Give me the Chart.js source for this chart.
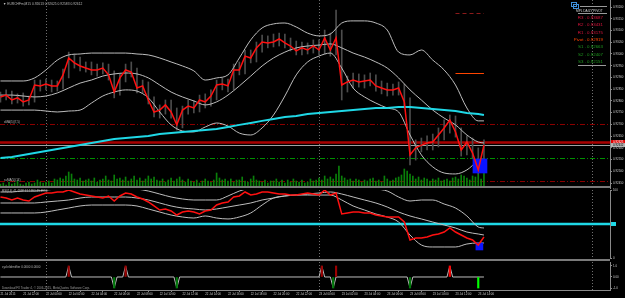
<!DOCTYPE html>
<html>
<head>
<meta charset="utf-8">
<title>EURCHFm,M15</title>
<script src="https://cdn.jsdelivr.net/npm/chart.js@4.4.1/dist/chart.umd.min.js"></script>
<style>
  html, body { margin: 0; padding: 0; background: #000; }
  #terminal { position: relative; width: 625px; height: 298px; overflow: hidden; background: #000; font-family: "Liberation Sans", Arial, sans-serif; }
  #terminal canvas { position: absolute; left: 0; }
  .lbl { position: absolute; white-space: nowrap; color: #b8b8b8; font-size: 3px; line-height: 4px; }
  .pv { position: absolute; right: 22px; white-space: nowrap; font-size: 4.4px; line-height: 5px; text-align: right; }
  .rule { position: absolute; height: 0; border-top: 1px solid #9a9a9a; }
  .icon { position: absolute; width: 4px; height: 3px; border: 1px solid #3f8fd8; }
</style>
</head>
<body>
<div id="terminal">
  <canvas id="priceChart" width="625" height="190" style="top:0"></canvas>
  <canvas id="oscChart" width="625" height="76" style="top:186px"></canvas>
  <canvas id="cycleChart" width="625" height="37" style="top:261px"></canvas>

  <div class="lbl" style="left:3px;top:2px;font-size:3.3px">&#9660; EURCHFm,M15 0.92613 0.92625 0.92583 0.92612</div>
  <div class="lbl" style="left:4px;top:120px">xMA(5)(7,5)</div>
  <div class="lbl" style="left:4px;top:178px">ssMA(5)(14)</div>
  <div class="lbl" style="left:2px;top:188.5px">RSI(14) 41.4998 41.1990 45.4990</div>
  <div class="lbl" style="left:2px;top:264.5px">cycleIdentifier 0.0000 0.0000</div>
  <div class="lbl" style="left:2px;top:285.5px;color:#9a9a9a">Download FX Trader 4, &copy; 2006-2015, MetaQuotes Software Corp.</div>

  <div class="icon" style="left:571px;top:2px"></div>
  <div class="icon" style="left:573px;top:4px"></div>
  <div class="rule" style="left:580px;top:6px;width:27px"></div>
  <div class="lbl" style="left:576px;top:8.5px;font-size:3.2px;color:#d8d8d8">MPL DAILY PIVOT</div>
  <div class="rule" style="left:578px;top:13px;width:29px"></div>
  <div id="pivotRows"></div>
  <div class="rule" style="left:578px;top:65px;width:28px"></div>
</div>

<script>
// time axis (hours after 21 Jul 20:00, M15 bars)
const xMin = -0.04;
const xMax = 53.58;
const dayHours = [4, 28, 52];
const labelHours = [0, 2, 4, 6, 8, 10, 12, 14, 16, 18, 20, 22, 24, 26, 28, 30, 32, 34, 36, 38, 40, 42];
const timeLabels = ['21 Jul 2015', '21 Jul 22:00', '22 Jul 00:00', '22 Jul 02:00', '22 Jul 04:00', '22 Jul 06:00',
  '22 Jul 08:00', '22 Jul 10:00', '22 Jul 12:00', '22 Jul 14:00', '22 Jul 16:00', '22 Jul 18:00', '22 Jul 20:00',
  '22 Jul 22:00', '23 Jul 00:00', '23 Jul 02:00', '23 Jul 04:00', '23 Jul 06:00', '23 Jul 08:00', '23 Jul 10:00',
  '23 Jul 12:00', '23 Jul 14:00'];

// close / high / low every 30 min
const close = [
  0.92817, 0.92825, 0.92804, 0.92813, 0.92796, 0.92804,
  0.92868, 0.92864, 0.92872, 0.92864, 0.92864, 0.92911,
  0.92983, 0.92962, 0.92949, 0.92940, 0.92932, 0.92932,
  0.92940, 0.92911, 0.92838, 0.92898, 0.92932, 0.92923,
  0.92855, 0.92864, 0.92804, 0.92753, 0.92761, 0.92783,
  0.92753, 0.92698, 0.92761, 0.92778, 0.92770, 0.92804,
  0.92796, 0.92821, 0.92868, 0.92872, 0.92864, 0.92932,
  0.92932, 0.92991, 0.92983, 0.93026, 0.93051, 0.93047,
  0.93051, 0.93064, 0.93047, 0.93034, 0.93013, 0.93026,
  0.93017, 0.93034, 0.93017, 0.93068, 0.93017, 0.93068,
  0.92868, 0.92881, 0.92889, 0.92881, 0.92885, 0.92889,
  0.92864, 0.92855, 0.92847, 0.92847, 0.92855, 0.92796,
  0.92570, 0.92600, 0.92612, 0.92621, 0.92625, 0.92655,
  0.92685, 0.92719, 0.92668, 0.92591, 0.92625, 0.92578,
  0.92506, 0.92612
];
const high = [
  0.92838, 0.92847, 0.92842, 0.92830, 0.92834, 0.92821,
  0.92889, 0.92889, 0.92893, 0.92889, 0.92885, 0.92936,
  0.93008, 0.93000, 0.92987, 0.92966, 0.92966, 0.92957,
  0.92962, 0.92957, 0.92928, 0.92915, 0.92957, 0.92966,
  0.92940, 0.92889, 0.92881, 0.92817, 0.92783, 0.92804,
  0.92804, 0.92770, 0.92778, 0.92804, 0.92800, 0.92825,
  0.92830, 0.92847, 0.92889, 0.92898, 0.92893, 0.92957,
  0.92966, 0.93017, 0.93017, 0.93051, 0.93081, 0.93077,
  0.93085, 0.93089, 0.93085, 0.93068, 0.93055, 0.93051,
  0.93047, 0.93060, 0.93060, 0.93102, 0.93089, 0.93187,
  0.93102, 0.92906, 0.92919, 0.92915, 0.92911, 0.92919,
  0.92911, 0.92885, 0.92876, 0.92872, 0.92881, 0.92872,
  0.92813, 0.92634, 0.92642, 0.92651, 0.92659, 0.92685,
  0.92719, 0.92740, 0.92736, 0.92685, 0.92651, 0.92642,
  0.92600, 0.92634
];
const low = [
  0.92795, 0.92804, 0.92787, 0.92791, 0.92778, 0.92783,
  0.92795, 0.92842, 0.92847, 0.92838, 0.92842, 0.92851,
  0.92898, 0.92940, 0.92928, 0.92923, 0.92911, 0.92906,
  0.92915, 0.92889, 0.92813, 0.92825, 0.92881, 0.92902,
  0.92834, 0.92834, 0.92787, 0.92732, 0.92727, 0.92744,
  0.92727, 0.92676, 0.92685, 0.92744, 0.92749, 0.92753,
  0.92770, 0.92778, 0.92804, 0.92847, 0.92838, 0.92847,
  0.92911, 0.92915, 0.92962, 0.92966, 0.93008, 0.93026,
  0.93030, 0.93034, 0.93026, 0.93013, 0.92996, 0.92996,
  0.93000, 0.93004, 0.92996, 0.93000, 0.92991, 0.92996,
  0.92804, 0.92838, 0.92855, 0.92859, 0.92855, 0.92864,
  0.92842, 0.92830, 0.92821, 0.92825, 0.92825, 0.92770,
  0.92527, 0.92548, 0.92583, 0.92591, 0.92591, 0.92604,
  0.92634, 0.92663, 0.92646, 0.92565, 0.92570, 0.92557,
  0.92489, 0.92497
];

// hourly indicator values
const bandHours = [0, 1, 2, 3, 4, 5, 6, 7, 8, 9, 10, 11, 12, 13, 14, 15, 16, 17, 18, 19, 20, 21,
  22, 23, 24, 25, 26, 27, 28, 29, 30, 31, 32, 33, 34, 35, 36, 37, 38, 39, 40, 41, 42, 42.5];
const upperBand = [0.92885, 0.92885, 0.92885, 0.92898, 0.92932, 0.92974, 0.92996, 0.93000, 0.93004, 0.93004,
  0.93004, 0.93004, 0.93000, 0.92996, 0.92983, 0.92966, 0.92949, 0.92928, 0.92889, 0.92898,
  0.92911, 0.92983, 0.93060, 0.93111, 0.93128, 0.93132, 0.93115, 0.93089, 0.93077, 0.93085,
  0.93132, 0.93141, 0.93141, 0.93132, 0.93102, 0.93008, 0.92996, 0.93017, 0.92974, 0.92932,
  0.92868, 0.92770, 0.92715, 0.92715];
const middleBand = [0.92825, 0.92825, 0.92821, 0.92817, 0.92821, 0.92834, 0.92855, 0.92876, 0.92889, 0.92906,
  0.92915, 0.92919, 0.92915, 0.92898, 0.92868, 0.92838, 0.92817, 0.92800, 0.92783, 0.92796,
  0.92825, 0.92864, 0.92906, 0.92949, 0.92983, 0.93008, 0.93026, 0.93034, 0.93038, 0.93043,
  0.93026, 0.93004, 0.92987, 0.92966, 0.92940, 0.92898, 0.92847, 0.92804, 0.92761, 0.92727,
  0.92698, 0.92655, 0.92625, 0.92621];
const lowerBand = [0.92761, 0.92761, 0.92761, 0.92761, 0.92757, 0.92753, 0.92757, 0.92761, 0.92791, 0.92821,
  0.92838, 0.92847, 0.92842, 0.92813, 0.92753, 0.92698, 0.92672, 0.92668, 0.92689, 0.92706,
  0.92693, 0.92663, 0.92655, 0.92685, 0.92740, 0.92821, 0.92911, 0.92966, 0.92991, 0.93004,
  0.92940, 0.92855, 0.92817, 0.92791, 0.92770, 0.92753, 0.92655, 0.92570, 0.92519, 0.92493,
  0.92489, 0.92506, 0.92544, 0.92548];
const slowMA = [0.92557, 0.92561, 0.92570, 0.92578, 0.92587, 0.92595, 0.92604, 0.92612, 0.92621, 0.92629,
  0.92638, 0.92642, 0.92646, 0.92651, 0.92659, 0.92663, 0.92668, 0.92672, 0.92676, 0.92680,
  0.92689, 0.92698, 0.92706, 0.92715, 0.92723, 0.92732, 0.92736, 0.92744, 0.92749, 0.92753,
  0.92757, 0.92761, 0.92766, 0.92770, 0.92770, 0.92774, 0.92774, 0.92770, 0.92766, 0.92761,
  0.92757, 0.92749, 0.92744, 0.92740];

// tick volume per M15 bar
const volume = [
  160, 200, 120, 240, 160, 200, 280, 160, 120, 200, 240, 160, 200, 320, 240, 200,
  240, 280, 200, 360, 320, 400, 360, 480, 640, 560, 360, 320, 400, 280, 320, 360,
  280, 400, 240, 320, 360, 480, 320, 280, 520, 360, 400, 320, 440, 280, 360, 480,
  320, 400, 280, 360, 480, 360, 440, 320, 280, 360, 240, 320, 400, 280, 360, 440,
  320, 240, 360, 280, 240, 320, 200, 280, 360, 280, 240, 320, 600, 400, 320, 360,
  280, 360, 240, 320, 320, 440, 280, 240, 360, 480, 320, 280, 240, 320, 200, 280,
  280, 360, 240, 320, 200, 320, 240, 360, 280, 240, 320, 200, 240, 360, 280, 320,
  400, 320, 480, 360, 440, 360, 560, 880, 480, 400, 320, 360, 280, 360, 320, 240,
  320, 280, 360, 400, 280, 320, 240, 480, 360, 280, 320, 400, 440, 520, 760, 680,
  560, 480, 360, 440, 320, 400, 360, 280, 360, 320, 400, 280, 320, 360, 280, 400,
  440, 360, 520, 480, 400, 320, 480, 440, 560, 360, 720
];

// levels on the price window
const priceTicks = [0.9245, 0.925, 0.9255, 0.926, 0.9265, 0.927, 0.9275, 0.928, 0.9285, 0.929,
  0.9295, 0.93, 0.9305, 0.931, 0.9315, 0.932];
const levelPrices = [0.92702, 0.92625, 0.92612, 0.92557, 0.92459];
const pivotNames = ['R3', 'R2', 'R1', 'Pivot', 'S1', 'S2', 'S3'];
const pivotValues = [0.93687, 0.93431, 0.93175, 0.92919, 0.92663, 0.92407, 0.92151];
const pivotStartHour = 40;
const lastHour = 42.5;
const boxHour = 42.15;
const boxRange = [0.92493, 0.92553];

// oscillator window
const rsi = [
  89.7, 88.2, 85.3, 88.2, 85.3, 83.8,
  89.7, 92.6, 95.6, 95.6, 97.1, 97.1,
  100, 97.1, 94.1, 92.6, 91.2, 89.7,
  88.2, 91.2, 83.8, 91.2, 95.6, 94.1,
  89.7, 86.8, 82.4, 76.5, 70.6, 72.1,
  69.1, 63.2, 67.6, 69.1, 67.6, 64.7,
  69.1, 70.6, 77.9, 80.9, 82.4, 89.7,
  91.2, 97.1, 92.6, 94.1, 97.1, 97.1,
  95.6, 94.1, 94.1, 92.6, 92.6, 94.1,
  95.6, 94.1, 92.6, 100, 92.6, 95.6,
  64.7, 66.2, 67.6, 67.6, 66.2, 66.2,
  63.2, 61.8, 60.3, 60.3, 60.3, 52.9,
  26.5, 29.4, 29.4, 30.9, 33.8, 35.3,
  38.2, 44.1, 38.2, 33.8, 29.4, 26.5,
  19.1, 30.9
];
const rsiUpper = [97.1, 97.1, 98.5, 98.5, 100, 101.5, 102.9, 104.4, 104.4, 104.4,
  104.4, 104.4, 101.5, 98.5, 94.1, 89.7, 86.8, 85.3, 85.3, 85.3,
  91.2, 98.5, 102.9, 104.4, 104.4, 104.4, 104.4, 104.4, 104.4, 104.4,
  104.4, 104.4, 102.9, 101.5, 98.5, 89.7, 83.8, 85.3, 85.3, 79.4,
  73.5, 61.8, 45.6, 44.1];
const rsiMiddle = [80.9, 80.9, 80.9, 80.9, 82.4, 83.8, 85.3, 88.2, 89.7, 89.7,
  89.7, 89.7, 88.2, 85.3, 80.9, 76.5, 73.5, 72.1, 70.6, 72.1,
  75.0, 77.9, 80.9, 85.3, 88.2, 91.2, 92.6, 94.1, 95.6, 97.1,
  94.1, 89.7, 85.3, 80.9, 75.0, 67.6, 61.8, 57.4, 52.9, 48.5,
  44.1, 38.2, 35.3, 33.8];
const rsiLower = [66.2, 66.2, 66.2, 66.2, 67.6, 70.6, 73.5, 76.5, 77.9, 77.9,
  77.9, 77.9, 76.5, 72.1, 67.6, 63.2, 60.3, 58.8, 61.8, 58.8,
  57.4, 60.3, 66.2, 77.9, 88.2, 91.2, 92.6, 92.6, 92.6, 92.6,
  85.3, 76.5, 70.6, 64.7, 60.3, 52.9, 33.8, 19.1, 16.2, 16.2,
  16.2, 20.6, 22.1, 22.1];
const rsiTicks = [0, 100];
const rsiLevel = 50;
const rsiBox = [11.8, 22.1];

// cycle identifier window
const cycleHours = [0, 5.75, 6, 6.25, 9.75, 10, 10.25, 10.75, 11, 11.25, 15.25, 15.5, 15.75,
  28, 28.25, 28.5, 29, 29.25, 29.5, 35.75, 36, 36.25, 39.25, 39.5, 39.75, 42.5];
const cycleValues = [0, 0, 1, 0, 0, -1, 0, 0, 1, 0, 0, -1, 0,
  0, 1, 0, 0, -1, 0, 0, -1, 0, 0, 1, 0, 0];
const signalHours = [6, 10, 11, 15.5, 28.25, 29.25, 29.5, 36, 39.5, 42];
const signalValues = [1, -1, 1, -1, 1, -1, 1, -1, 1, -1];
const cycleTicks = [1, 0, -1];

const tickFont = { family: 'Liberation Sans', size: 2.9 };
const axisGray = '#8a8a8a';

const pts = (hours, values) => values.map((v, i) => ({ x: hours[i], y: v }));
const closeHours = close.map((_, i) => i * 0.5);
const volHours = volume.map((_, i) => i * 0.25);
const wicks = close.map((_, i) => ({ x: closeHours[i], y: [low[i], high[i]] }));

function hiddenX() {
  return { type: 'linear', min: xMin, max: xMax, offset: false, display: false };
}

function rightAxis(min, max, ticks, fmt) {
  return {
    position: 'right', min: min, max: max,
    border: { color: axisGray },
    grid: { drawOnChartArea: false, tickLength: 2, color: axisGray },
    afterBuildTicks(s) { s.ticks = ticks.map(v => ({ value: v })); },
    ticks: { color: '#c8c8c8', padding: 1, font: tickFont, autoSkip: false, callback: fmt },
    afterFit(s) { s.width = 15; s.paddingTop = 0; s.paddingBottom = 0; }
  };
}

const daySeparators = {
  id: 'daySeparators',
  beforeDatasetsDraw(chart) {
    const { ctx, chartArea: a, scales: { x } } = chart;
    ctx.save();
    ctx.strokeStyle = '#707070';
    ctx.lineWidth = 1;
    ctx.setLineDash([1, 2]);
    dayHours.forEach(h => {
      const px = Math.round(x.getPixelForValue(h)) + 0.5;
      if (px < a.left || px > a.right) return;
      ctx.beginPath();
      ctx.moveTo(px, a.top);
      ctx.lineTo(px, a.bottom);
      ctx.stroke();
    });
    ctx.restore();
  }
};

function hline(ctx, x0, x1, y, color, width, dash) {
  ctx.strokeStyle = color;
  ctx.lineWidth = width;
  ctx.setLineDash(dash || []);
  ctx.beginPath();
  ctx.moveTo(x0, y);
  ctx.lineTo(x1, y);
  ctx.stroke();
}

const levelStyles = [
  { color: '#8b0000', width: 1, dash: [5, 2, 1, 2] },
  { color: '#a80000', width: 2.5, dash: [] },
  { color: '#a0a0a0', width: 1, dash: [] },
  { color: '#009000', width: 1, dash: [5, 2, 1, 2] },
  { color: '#8b0000', width: 1, dash: [5, 2, 1, 2] }
];

const priceDecor = {
  id: 'priceDecor',
  beforeDatasetsDraw(chart) {
    const { ctx, chartArea: a, scales: { x, y } } = chart;
    ctx.save();
    levelPrices.forEach((p, i) => {
      const st = levelStyles[i];
      hline(ctx, a.left, a.right, Math.round(y.getPixelForValue(p)) + 0.5, st.color, st.width, st.dash);
    });
    const x0 = x.getPixelForValue(pivotStartHour);
    const x1 = x.getPixelForValue(lastHour);
    hline(ctx, x0, x1, Math.round(y.getPixelForValue(pivotValues[2])) + 0.5, '#8b1a1a', 1, [4, 3]);
    hline(ctx, x0, x1, Math.round(y.getPixelForValue(pivotValues[3])) + 0.5, '#ff4500', 1);
    ctx.restore();
  },
  afterDraw(chart) {
    const { ctx, chartArea: a, scales: { y } } = chart;
    ctx.save();
    hline(ctx, a.left, a.right, a.bottom - 1, '#7a7a7a', 2);
    // price tags on the axis
    const tags = [[levelPrices[1], '#e00000', '#ffffff'], [levelPrices[2], '#b4b4b4', '#000000']];
    ctx.font = '2.9px "Liberation Sans"';
    ctx.textBaseline = 'middle';
    tags.forEach(([p, bg, fg]) => {
      const py = y.getPixelForValue(p);
      ctx.fillStyle = bg;
      ctx.fillRect(a.right + 1, py - 2, 14, 4);
      ctx.fillStyle = fg;
      ctx.fillText(p.toFixed(5), a.right + 3, py);
    });
    ctx.restore();
  }
};

new Chart(document.getElementById('priceChart'), {
  type: 'line',
  data: {
    datasets: [
      { data: pts(closeHours, close), borderColor: '#ff1010', borderWidth: 1.5, order: 0 },
      { type: 'bar', data: [{ x: boxHour, y: boxRange }], backgroundColor: '#0a14ff', barThickness: 14, grouped: false, order: 1 },
      { data: pts(bandHours, slowMA), borderColor: '#1fd8e6', borderWidth: 2, order: 2 },
      { data: pts(bandHours, upperBand), borderColor: '#bdbdbd', borderWidth: 1, cubicInterpolationMode: 'monotone', order: 3 },
      { data: pts(bandHours, middleBand), borderColor: '#bdbdbd', borderWidth: 1, cubicInterpolationMode: 'monotone', order: 3 },
      { data: pts(bandHours, lowerBand), borderColor: '#bdbdbd', borderWidth: 1, cubicInterpolationMode: 'monotone', order: 3 },
      { type: 'bar', data: wicks, backgroundColor: '#4c4c4c', barThickness: 1, grouped: false, order: 4 },
      { type: 'bar', yAxisID: 'yv', data: pts(volHours, volume), backgroundColor: '#0a800a', barThickness: 1, grouped: false, order: 5 }
    ]
  },
  options: {
    responsive: false,
    animation: false,
    events: [],
    layout: { padding: { top: 0, bottom: 2, left: 0, right: 0 } },
    elements: { point: { radius: 0 }, line: { tension: 0 } },
    plugins: { legend: { display: false }, tooltip: { enabled: false } },
    scales: {
      x: hiddenX(),
      y: rightAxis(0.924291, 0.9323, priceTicks, v => v.toFixed(5)),
      yv: { display: false, min: 0, max: 7520 }
    }
  },
  plugins: [daySeparators, priceDecor]
});

const oscDecor = {
  id: 'oscDecor',
  beforeDatasetsDraw(chart) {
    const { ctx, chartArea: a, scales: { y } } = chart;
    ctx.save();
    hline(ctx, a.left, a.right, y.getPixelForValue(rsiLevel), '#1fd8e6', 2.5);
    ctx.restore();
  },
  afterDraw(chart) {
    const { ctx, chartArea: a, scales: { y } } = chart;
    ctx.save();
    ctx.fillStyle = '#1fd8e6';
    ctx.fillRect(a.right + 1, y.getPixelForValue(rsiLevel) - 2, 5, 4);
    hline(ctx, a.left, a.right, a.bottom + 2, '#7a7a7a', 2);
    ctx.restore();
  }
};

new Chart(document.getElementById('oscChart'), {
  type: 'line',
  data: {
    datasets: [
      { data: pts(closeHours, rsi), borderColor: '#ff1010', borderWidth: 1.5, order: 0 },
      { type: 'bar', data: [{ x: 42.1, y: rsiBox }], backgroundColor: '#0a14ff', barThickness: 7, grouped: false, order: 1 },
      { data: pts(bandHours, rsiUpper), borderColor: '#bdbdbd', borderWidth: 1, cubicInterpolationMode: 'monotone', order: 3 },
      { data: pts(bandHours, rsiMiddle), borderColor: '#bdbdbd', borderWidth: 1, cubicInterpolationMode: 'monotone', order: 3 },
      { data: pts(bandHours, rsiLower), borderColor: '#bdbdbd', borderWidth: 1, cubicInterpolationMode: 'monotone', order: 3 }
    ]
  },
  options: {
    responsive: false,
    animation: false,
    events: [],
    layout: { padding: { top: 4, bottom: 4, left: 0, right: 0 } },
    elements: { point: { radius: 0 }, line: { tension: 0 } },
    plugins: { legend: { display: false }, tooltip: { enabled: false } },
    scales: {
      x: hiddenX(),
      y: rightAxis(0, 100, rsiTicks, v => String(v))
    }
  },
  plugins: [daySeparators, oscDecor]
});

new Chart(document.getElementById('cycleChart'), {
  type: 'line',
  data: {
    datasets: [
      { data: pts(cycleHours, cycleValues), borderColor: '#bdbdbd', borderWidth: 1, order: 1 },
      {
        type: 'bar', data: pts(signalHours, signalValues), barThickness: 1.5, grouped: false, order: 0,
        backgroundColor: ctx => {
          const v = signalValues[ctx.dataIndex];
          const lastUp = signalValues.lastIndexOf(1), lastDn = signalValues.lastIndexOf(-1);
          if (ctx.dataIndex === lastUp) return '#ff0000';
          if (ctx.dataIndex === lastDn) return '#00ff00';
          return v > 0 ? '#9b0000' : '#00780a';
        }
      }
    ]
  },
  options: {
    responsive: false,
    animation: false,
    events: [],
    layout: { padding: { top: 1, bottom: 0, left: 0, right: 0 } },
    elements: { point: { radius: 0 }, line: { tension: 0 } },
    plugins: { legend: { display: false }, tooltip: { enabled: false } },
    scales: {
      x: {
        type: 'linear', min: xMin, max: xMax, offset: false,
        border: { color: axisGray },
        grid: { drawOnChartArea: false, tickLength: 2, color: axisGray },
        afterBuildTicks(s) { s.ticks = labelHours.map(v => ({ value: v })); },
        ticks: { autoSkip: false, maxRotation: 0, align: 'start', padding: 0, color: '#c8c8c8', font: tickFont,
          callback: (v, i) => timeLabels[i] },
        afterFit(s) { s.height = 8; s.paddingLeft = 0; s.paddingRight = 0; }
      },
      y: rightAxis(-1.18, 1.36, cycleTicks, v => (v === 0 ? '0.00' : v.toFixed(1)))
    }
  },
  plugins: [daySeparators]
});

// pivot table, top right
const pivotColors = ['#dc143c', '#dc143c', '#dc143c', '#ff4500', '#1f9a1f', '#1f9a1f', '#1f9a1f'];
const rowTops = [14.5, 22, 29.5, 36.5, 44, 51.5, 58.5];
document.getElementById('pivotRows').innerHTML = pivotNames.map((n, i) =>
  `<div class="pv" style="top:${rowTops[i]}px;color:${pivotColors[i]}">${n} . ${pivotValues[i].toFixed(5)}</div>`
).join('');
</script>
</body>
</html>
